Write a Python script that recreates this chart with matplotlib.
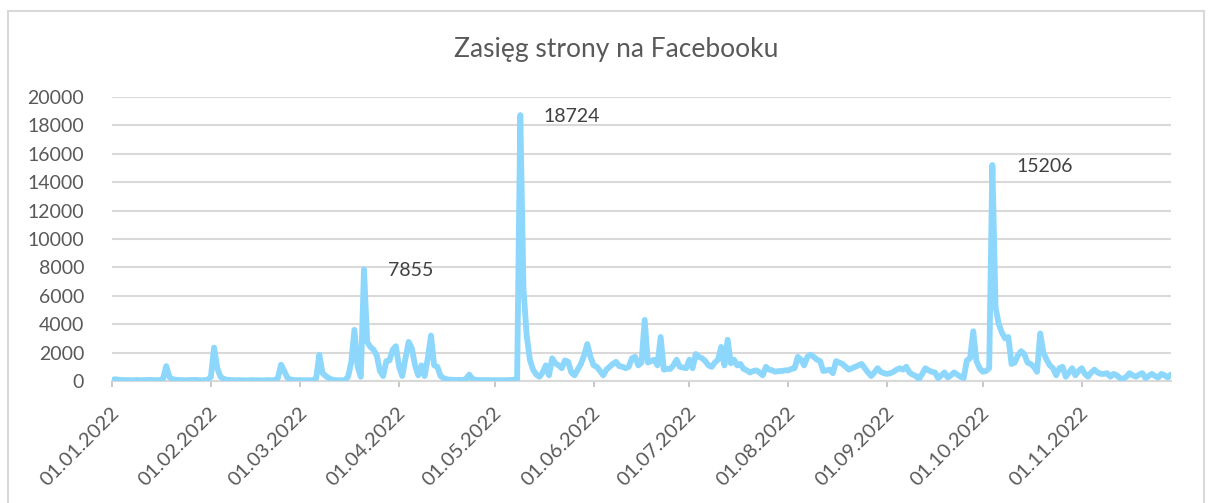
import matplotlib
matplotlib.use("Agg")
import matplotlib.pyplot as plt
import matplotlib.dates as mdates
import matplotlib.transforms as mtransforms
from matplotlib.patches import Rectangle
import pandas as pd
import numpy as np

plt.rcParams['font.family'] = ['Lato', 'DejaVu Sans']

title = "Zasięg strony na Facebooku"
start_date = "2022-01-01"

jan = [80, 120, 90, 70, 60, 60, 50, 60, 70, 50, 60, 70, 80, 60, 50, 70, 150, 1050, 280, 120,
       90, 70, 60, 50, 60, 70, 80, 60, 50, 60, 80]
feb = [300, 2350, 900, 300, 150, 90, 70, 60, 50, 60, 50, 40, 50, 60, 50, 50, 40, 50, 60, 50,
       60, 200, 1150, 700, 220, 100, 70, 60]
mar = [60, 50, 60, 50, 60, 200, 1850, 550, 350, 200, 100, 60, 50, 50, 60, 300, 1300, 3600, 1000, 300,
       7855, 2750, 2400, 2200, 1800, 700, 350, 1400, 1450, 2200, 2450]
apr = [1000, 350, 1600, 2750, 2300, 1100, 400, 1100, 350, 1600, 3200, 1100, 1000, 350, 200, 120, 90, 80, 70, 80,
       70, 150, 450, 150, 80, 70, 60, 70, 60, 50]
may = [60, 50, 60, 50, 60, 70, 80, 100, 18724, 6500, 3200, 1500, 800, 450, 300, 600, 1100, 400, 1600, 1250,
       1100, 900, 1450, 1350, 600, 400, 800, 1200, 1800, 2600, 1700]
jun = [1100, 1000, 700, 400, 800, 1000, 1200, 1350, 1050, 1000, 900, 1000, 1600, 1700, 1100, 1300, 4300, 1300, 1400, 1500,
       1100, 3100, 800, 850, 850, 1100, 1500, 1000, 950, 900]
jul = [1500, 900, 1900, 1700, 1600, 1400, 1100, 1000, 1300, 1500, 2400, 1100, 2900, 1250, 1500, 1100, 1200, 850, 750, 600,
       700, 750, 600, 400, 1000, 800, 750, 650, 700, 700, 750]
aug = [750, 850, 900, 1700, 1500, 1100, 1700, 1850, 1700, 1500, 1400, 700, 750, 800, 550, 1400, 1300, 1200, 1000, 800,
       900, 1000, 1100, 1200, 900, 600, 350, 600, 900, 650, 550]
sep = [500, 550, 650, 800, 900, 800, 1000, 600, 450, 350, 150, 500, 900, 750, 650, 600, 200, 400, 600, 250,
       400, 600, 450, 300, 200, 1450, 1600, 3500, 1400, 900]
oct_ = [650, 700, 900, 15206, 5200, 4000, 3400, 3000, 3100, 1200, 1300, 1800, 2100, 1900, 1300, 1200, 1000, 650, 3350, 2000,
        1500, 1100, 900, 400, 900, 1000, 300, 600, 900, 400, 700]
nov = [900, 500, 300, 600, 800, 600, 500, 500, 550, 300, 500, 400, 200, 150, 300, 550, 400, 300, 450, 550,
       200, 350, 500, 350, 250, 500, 400, 250, 450]

values = jan + feb + mar + apr + may + jun + jul + aug + sep + oct_ + nov
dates = pd.date_range(start_date, periods=len(values), freq="D")

labelled = [7855, 18724, 15206]

y_ticks = [0, 2000, 4000, 6000, 8000, 10000, 12000, 14000, 16000, 18000, 20000]

W, H = 1208, 503
fig = plt.figure(figsize=(W / 100, H / 100), dpi=100)
ax = fig.add_axes([112 / W, 1 - 381 / H, (1171 - 112) / W, (381 - 97) / H])

# chart border
fig.patches.append(Rectangle((8 / W, -0.05), (1204 - 8) / W, 1.05 - 11 / H,
                             transform=fig.transFigure, fill=False,
                             edgecolor='#D9D9D9', linewidth=1.5))

ax.plot(dates, values, color='#8DD7FC', linewidth=4.2, solid_joinstyle='round',
        solid_capstyle='round', zorder=3)

text_col = '#595959'
for v in labelled:
    i = values.index(v)
    ax.annotate(str(v), xy=(dates[i], v), xytext=(17, -1), textcoords='offset points',
                ha='left', va='center', fontsize=14, color='#404040')

ax.set_ylim(0, 20000)
ax.set_yticks(y_ticks)
ax.set_xlim(dates[0], dates[-1])
ax.grid(axis='y', color='#D9D9D9', linewidth=1.5)
ax.set_axisbelow(True)
for s in ['top', 'right', 'left']:
    ax.spines[s].set_visible(False)
ax.spines['bottom'].set_color('#D9D9D9')
ax.spines['bottom'].set_linewidth(1.5)

ax.xaxis.set_major_locator(mdates.MonthLocator(bymonthday=1))
ax.xaxis.set_major_formatter(mdates.DateFormatter('%d.%m.%Y'))
ax.tick_params(axis='x', length=4, width=1.2, color='#BFBFBF', pad=17,
               labelsize=14.5, labelcolor=text_col)
ax.tick_params(axis='y', length=0, pad=20, labelsize=14, labelcolor=text_col)
shift = mtransforms.ScaledTranslation(4 / 100, 0, fig.dpi_scale_trans)
for lab in ax.get_xticklabels():
    lab.set_rotation(45)
    lab.set_ha('right')
    lab.set_va('center')
    lab.set_rotation_mode('anchor')
    lab.set_transform(lab.get_transform() + shift)

fig.text(616 / W, 1 - 50 / H, title, ha='center', va='center', fontsize=19, color=text_col)

fig.savefig('out.png', dpi=100)
